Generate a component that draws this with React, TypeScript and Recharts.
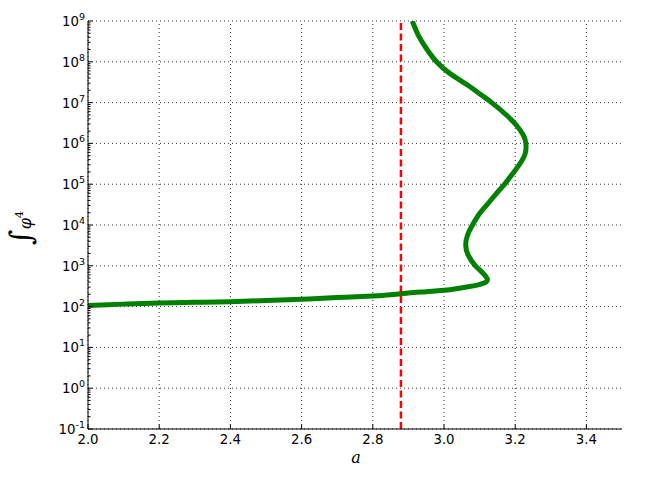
import React from 'react';
import { LineChart, Line, XAxis, YAxis, ReferenceLine, Customized } from 'recharts';

// curve traced along its path (a is not monotone, so the order matters)
const curveA = [
  2.0, 2.1, 2.2, 2.3, 2.4, 2.5, 2.6, 2.7, 2.8, 2.85, 2.9, 2.95, 3.0, 3.03, 3.064,
  3.09, 3.106, 3.118, 3.122, 3.118, 3.106, 3.087, 3.068, 3.061, 3.066, 3.08,
  3.1, 3.123, 3.147, 3.171, 3.193, 3.213, 3.228, 3.23, 3.223, 3.204, 3.176,
  3.134, 3.106, 3.068, 3.017, 2.979, 2.951, 2.928, 2.911,
];
const curveValue = [
  107, 115, 123, 127, 132, 141, 151, 166, 182, 195, 216, 232, 251, 269, 302,
  331, 363, 398, 457, 537, 708, 1020, 1820, 3160, 5620, 10000,
  19100, 33100, 58900, 102000, 182000, 316000, 562000, 1000000, 1580000, 2750000, 4900000,
  10000000, 15100000, 26300000, 51300000, 100000000, 209000000, 447000000, 1000000000,
];
const criticalA = 2.879;
const xTicks = [2.0, 2.2, 2.4, 2.6, 2.8, 3.0, 3.2, 3.4];
const yMajorTicks = [1e-1, 1e0, 1e1, 1e2, 1e3, 1e4, 1e5, 1e6, 1e7, 1e8, 1e9];
const yMinorSteps = [2, 3, 4, 5, 6, 7, 8, 9];

const curveData = curveA.map((a, i) => ({ a, v: curveValue[i] }));
const criticalData = [
  { a: criticalA, v: yMajorTicks[0] },
  { a: criticalA, v: yMajorTicks[yMajorTicks.length - 1] },
];
const yTicks = [
  ...yMajorTicks,
  ...yMajorTicks.slice(0, -1).flatMap((m) => yMinorSteps.map((s) => m * s)),
].sort((p, q) => p - q);

const W = 646;
const H = 485;
const PLOT = { left: 88, top: 21, right: 622, bottom: 429 };
const FONT = '"DejaVu Sans", sans-serif';

const isMajor = (v: number) => Math.abs(Math.log10(v) - Math.round(Math.log10(v))) < 1e-6;

const BottomTick = ({ x, payload }: any) => (
  <g>
    <line x1={x} x2={x} y1={PLOT.bottom} y2={PLOT.bottom - 4.5} stroke="#000" />
    <text x={x} y={PLOT.bottom + 15} textAnchor="middle" fontFamily={FONT} fontSize={13.3} fill="#000">
      {Number(payload.value).toFixed(1)}
    </text>
  </g>
);

const TopTick = ({ x }: any) => (
  <line x1={x} x2={x} y1={PLOT.top} y2={PLOT.top + 4.5} stroke="#000" />
);

const LeftTick = ({ y, payload }: any) => {
  const v = payload.value;
  if (!isMajor(v)) {
    return <line x1={PLOT.left} x2={PLOT.left + 2.5} y1={y} y2={y} stroke="#000" />;
  }
  const exp = Math.round(Math.log10(v));
  return (
    <g>
      <line x1={PLOT.left} x2={PLOT.left + 4.5} y1={y} y2={y} stroke="#000" />
      <text x={PLOT.left - 3} y={y + 5} textAnchor="end" fontFamily={FONT} fontSize={13.3} fill="#000">
        10
        <tspan dy={-6} fontSize={9.5}>{exp}</tspan>
      </text>
    </g>
  );
};

const RightTick = ({ y, payload }: any) => {
  const len = isMajor(payload.value) ? 4.5 : 2.5;
  return <line x1={PLOT.right} x2={PLOT.right - len} y1={y} y2={y} stroke="#000" />;
};

const AxisTitles = () => (
  <g>
    <text
      transform="translate(31, 228) rotate(-90)"
      textAnchor="middle"
      fontFamily='"DejaVu Serif", serif'
      fill="#000"
    >
      <tspan fontSize={30} fontStyle="italic">∫</tspan>
      <tspan fontSize={16} fontStyle="italic">φ</tspan>
      <tspan fontSize={11} dy={-8}>4</tspan>
    </text>
    <text x={356} y={463} textAnchor="middle" fontFamily='"DejaVu Serif", serif' fontStyle="italic" fontSize={16} fill="#000">
      a
    </text>
  </g>
);

export default function App() {
  return (
    <div style={{ position: 'absolute', left: 0, top: 0, width: W, height: H, background: '#fff' }}>
      <LineChart width={W} height={H} margin={{ top: PLOT.top, right: W - PLOT.right, bottom: 0, left: 0 }}>
        <XAxis
          xAxisId="bottom"
          dataKey="a"
          type="number"
          domain={[2.0, 3.5]}
          ticks={xTicks}
          allowDataOverflow
          height={H - PLOT.bottom}
          axisLine={{ stroke: '#000' }}
          tickLine={false}
          tick={<BottomTick />}
          interval={0}
        />
        <XAxis
          xAxisId="top"
          orientation="top"
          dataKey="a"
          type="number"
          domain={[2.0, 3.5]}
          ticks={xTicks}
          allowDataOverflow
          height={0}
          axisLine={{ stroke: '#000' }}
          tickLine={false}
          tick={<TopTick />}
          interval={0}
        />
        <YAxis
          yAxisId="left"
          dataKey="v"
          scale="log"
          domain={[1e-1, 1e9]}
          ticks={yTicks}
          allowDataOverflow
          width={PLOT.left}
          axisLine={{ stroke: '#000' }}
          tickLine={false}
          tick={<LeftTick />}
          interval={0}
        />
        <YAxis
          yAxisId="right"
          orientation="right"
          dataKey="v"
          scale="log"
          domain={[1e-1, 1e9]}
          ticks={yTicks}
          allowDataOverflow
          width={0}
          axisLine={{ stroke: '#000' }}
          tickLine={false}
          tick={<RightTick />}
          interval={0}
        />
        {xTicks.map((t) => (
          <ReferenceLine key={`gx${t}`} x={t} xAxisId="bottom" yAxisId="left" stroke="#000" strokeWidth={0.8} strokeDasharray="1 3" />
        ))}
        {yMajorTicks.map((t) => (
          <ReferenceLine key={`gy${t}`} y={t} xAxisId="bottom" yAxisId="left" stroke="#000" strokeWidth={0.8} strokeDasharray="1 3" />
        ))}
        <Line
          data={curveData}
          xAxisId="bottom"
          yAxisId="left"
          dataKey="v"
          type="natural"
          stroke="#008000"
          strokeWidth={5}
          dot={false}
          isAnimationActive={false}
        />
        <Line
          data={criticalData}
          xAxisId="bottom"
          yAxisId="left"
          dataKey="v"
          type="linear"
          stroke="#ff0000"
          strokeWidth={2.5}
          strokeDasharray="7 3.5"
          dot={false}
          isAnimationActive={false}
        />
        <Customized component={AxisTitles} />
      </LineChart>
    </div>
  );
}
